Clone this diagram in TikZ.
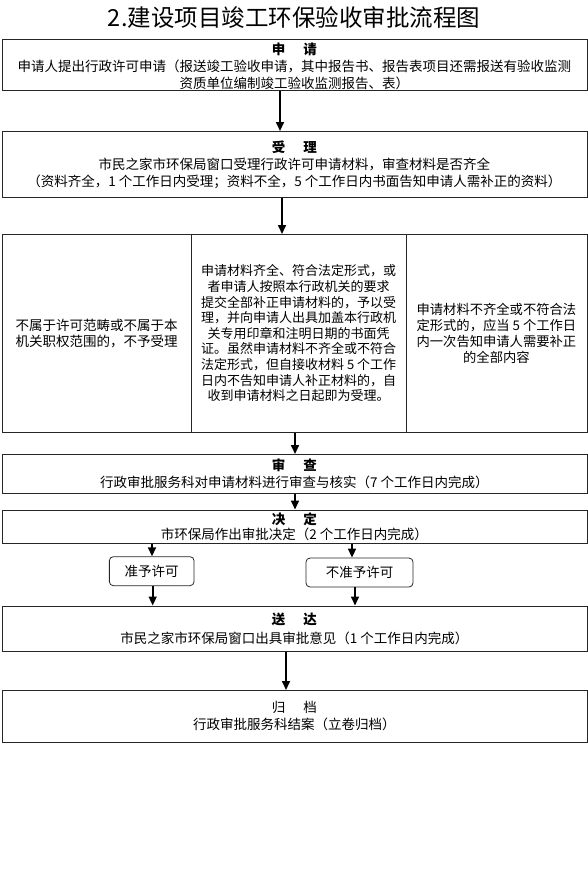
\documentclass[tikz,border=0pt]{standalone}
\usepackage{fontspec}
\setmainfont{Noto Sans CJK SC}
\usetikzlibrary{arrows.meta,calc}
\begin{document}
\begin{tikzpicture}[x=1pt,y=-1pt,
  box/.style={draw=black!85, line width=0.8pt, anchor=north west, inner sep=0pt,
    align=center, font=\fontsize{13.5}{17}\selectfont, minimum width=585pt},
  cell/.style={draw=black!85, line width=0.8pt, anchor=north west, inner sep=0pt,
    align=center, minimum height=198pt},
  rbox/.style={draw=black!85, line width=0.8pt, rounded corners=4pt, inner sep=0pt,
    font=\fontsize{13.5}{16}\selectfont, minimum height=29pt},
  arr/.style={line width=1.6pt, -{Triangle[length=9pt,width=8pt]}},
  title/.style={font=\fontsize{23.5}{26}\selectfont}]
\useasboundingbox (0,0) rectangle (588,879);
\node[title] (t) at (294,18) {2.建设项目竣工环保验收审批流程图};
\node[box, minimum height=51.5pt] (b1) at (1.5,38.5)
  {\rule{0pt}{15.5pt}\textbf{申\hspace{18pt}请}\\
   申请人提出行政许可申请（报送竣工验收申请，其中报告书、报告表项目还需报送有验收监测\\
   资质单位编制竣工验收监测报告、表）};
\node[box, minimum height=66pt] (b2) at (1.5,131)
  {\textbf{受\hspace{18pt}理}\\
   市民之家市环保局窗口受理行政许可申请材料，审查材料是否齐全\\
   （资料齐全，1 个工作日内受理；资料不全，5 个工作日内书面告知申请人需补正的资料）};
\node[cell, minimum width=189.5pt, font=\fontsize{13.5}{16}\selectfont] (c1) at (1.5,234)
  {不属于许可范畴或不属于本\\机关职权范围的，不予受理};
\node[cell, minimum width=214.5pt, font=\fontsize{13}{15.6}\selectfont] (c2) at (191,234)
  {申请材料齐全、符合法定形式，或\\
   者申请人按照本行政机关的要求\\
   提交全部补正申请材料的，予以受\\
   理，并向申请人出具加盖本行政机\\
   关专用印章和注明日期的书面凭\\
   证。虽然申请材料不齐全或不符合\\
   法定形式，但自接收材料 5 个工作\\
   日内不告知申请人补正材料的，自\\
   收到申请材料之日起即为受理。};
\node[cell, minimum width=181pt, font=\fontsize{13.3}{15.8}\selectfont] (c3) at (405.5,234)
  {申请材料不齐全或不符合法\\定形式的，应当 5 个工作日\\内一次告知申请人需要补正\\的全部内容};
\node[box, minimum height=39pt, font=\fontsize{13.5}{16.5}\selectfont] (b3) at (1.5,454)
  {\textbf{审\hspace{18pt}查}\\
   行政审批服务科对申请材料进行审查与核实（7 个工作日内完成）};
\node[box, minimum height=33.5pt, font=\fontsize{13.5}{15}\selectfont] (b4) at (1.5,509.5)
  {\textbf{决\hspace{18pt}定}\\
   市环保局作出审批决定（2 个工作日内完成）};
\node[rbox, minimum width=84.7pt] (y1) at (151.7,571.2) {准予许可};
\node[rbox, minimum width=107pt] (y2) at (359.5,572.5) {不准予许可};
\node[box, minimum height=45.5pt, font=\fontsize{13.5}{18.5}\selectfont] (b5) at (1.5,605.5)
  {\textbf{送\hspace{18pt}达}\\
   市民之家市环保局窗口出具审批意见（1 个工作日内完成）};
\node[box, minimum height=51.7pt] (b6) at (1.5,690)
  {归\hspace{18pt}档\\
   行政审批服务科结案（立卷归档）};
\coordinate (x1) at (280,0);
\coordinate (x2) at (282,0);
\coordinate (x3) at (295,0);
\coordinate (x4) at (152,0);
\coordinate (x5) at (152.7,0);
\coordinate (x6) at (352,0);
\coordinate (x7) at (355,0);
\coordinate (x8) at (286,0);
\draw[arr] (b1.south -| x1) -- (b2.north -| x1);
\draw[arr] (b2.south -| x2) -- (c2.north -| x2);
\draw[arr] (c2.south -| x3) -- (b3.north -| x3);
\draw[arr] (b3.south -| x3) -- (b4.north -| x3);
\draw[arr] (b4.south -| x4) -- (y1.north -| x4);
\draw[arr] (b4.south -| x6) -- (y2.north -| x6);
\draw[arr] (y1.south -| x5) -- (b5.north -| x5);
\draw[arr] (y2.south -| x7) -- (b5.north -| x7);
\draw[arr] (b5.south -| x8) -- (b6.north -| x8);
\end{tikzpicture}
\end{document}
